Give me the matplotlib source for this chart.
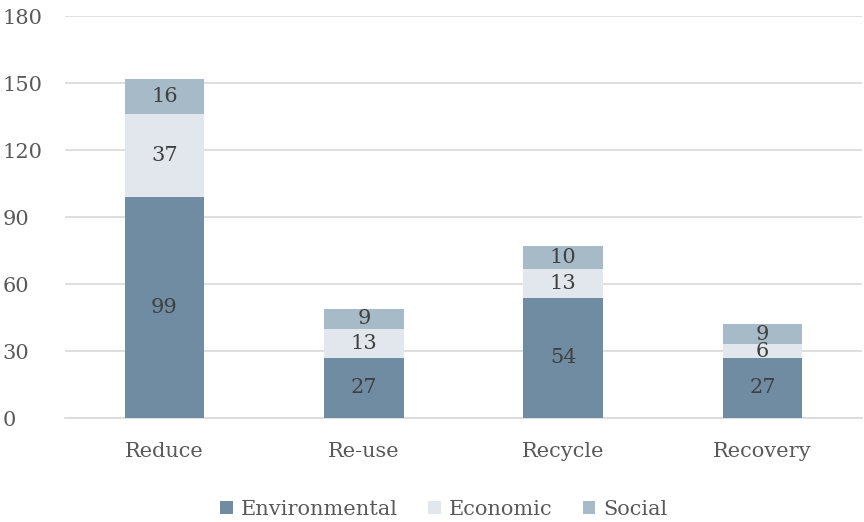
import matplotlib
matplotlib.use("Agg")
import matplotlib.pyplot as plt
import numpy as np

categories = ["Reduce", "Re-use", "Recycle", "Recovery"]
environmental = [99, 27, 54, 27]
economic = [37, 13, 13, 6]
social = [16, 9, 10, 9]
yticks = [0, 30, 60, 90, 120, 150, 180]

plt.rcParams['font.family'] = ['DejaVu Serif']
txt = '#595959'

fig = plt.figure(figsize=(8.64, 5.22), dpi=100)
ax = fig.add_axes([0.075, 0.199, 0.923, 0.770])

x = np.arange(len(categories))
w = 0.4
c_env, c_eco, c_soc = '#6F8CA3', '#E1E7EC', '#A7BAC8'
env = np.array(environmental)
eco = np.array(economic)
soc = np.array(social)
b1 = ax.bar(x, env, w, color=c_env, label='Environmental', zorder=3)
b2 = ax.bar(x, eco, w, bottom=env, color=c_eco, label='Economic', zorder=3)
b3 = ax.bar(x, soc, w, bottom=env + eco, color=c_soc, label='Social', zorder=3)

for bars, vals, bots in [(b1, env, np.zeros_like(env)), (b2, eco, env), (b3, soc, env + eco)]:
    for xi, v, b in zip(x, vals, bots):
        ax.text(xi, b + v / 2, str(v), ha='center', va='center', fontsize=15, color='#404040', zorder=4)

ax.set_xlim(-0.5, 3.5)
ax.set_ylim(0, 180)
ax.set_yticks(yticks)
ax.set_xticks(x)
ax.set_xticklabels(categories)
ax.tick_params(axis='both', length=0, labelsize=15, colors=txt)
ax.tick_params(axis='x', pad=17)
ax.tick_params(axis='y', pad=45)
ax.grid(axis='y', color='#D9D9D9', linewidth=1.2, zorder=0)
for s in ['top', 'right', 'left']:
    ax.spines[s].set_visible(False)
ax.spines['bottom'].set_color('#D9D9D9')
ax.spines['bottom'].set_linewidth(1.2)
for lab in ax.get_yticklabels():
    lab.set_horizontalalignment('left')

leg = fig.legend(handles=[b1, b2, b3], loc='lower center', bbox_to_anchor=(0.514, -0.03), ncol=3,
                 frameon=False, fontsize=15, handlelength=0.6, handleheight=0.6,
                 columnspacing=1.45, handletextpad=0.4)
for t in leg.get_texts():
    t.set_color(txt)

fig.savefig('out.png', dpi=100)
